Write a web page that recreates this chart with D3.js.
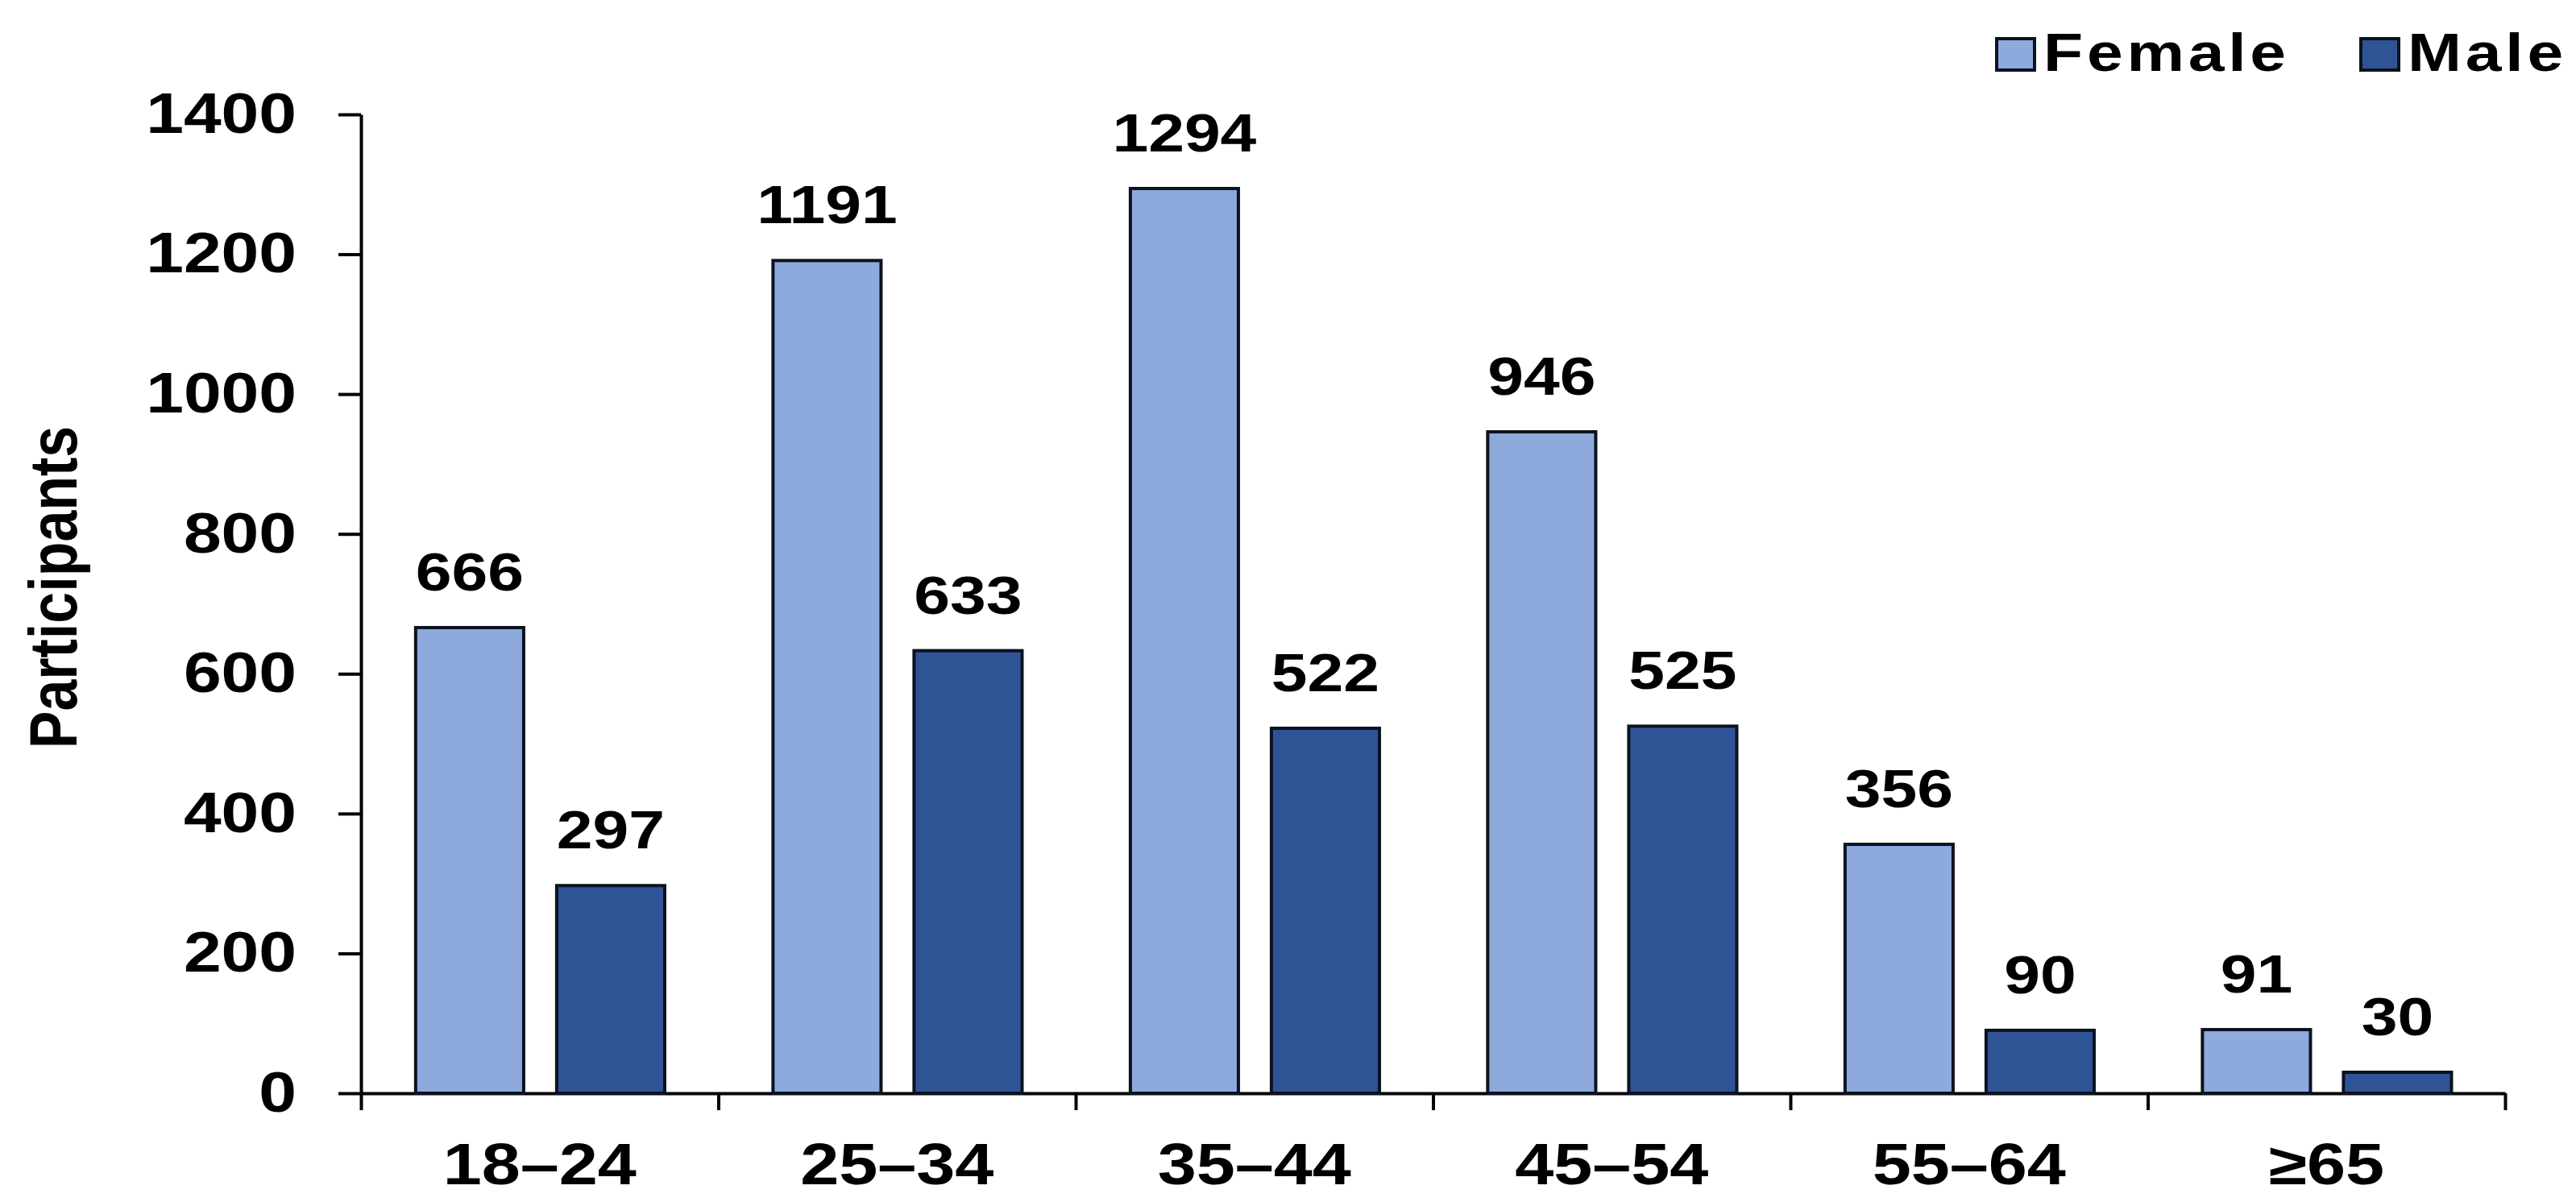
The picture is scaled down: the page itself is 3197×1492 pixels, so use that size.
<!DOCTYPE html>
<html>
<head>
<meta charset="utf-8">
<script src="https://cdn.jsdelivr.net/npm/d3@7"></script>
<style>
  body { margin: 0; background: #fff; }
  text { font-family: "Liberation Sans", Arial, sans-serif; font-weight: bold; fill: #000; }
</style>
</head>
<body>
<div id="chart"></div>
<script>
const categories = ["18–24", "25–34", "35–44", "45–54", "55–64", "≥65"];
const seriesNames = ["Female", "Male"];
const femaleValues = [666, 1191, 1294, 946, 356, 91];
const maleValues = [297, 633, 522, 525, 90, 30];
const yTickValues = [0, 200, 400, 600, 800, 1000, 1200, 1400];

const colors = {Female: "#8eaadc", Male: "#2f5496"};
const stretch = 1.2; // text in the source is a bit wide

const W = 3197, H = 1492;
const margin = {top: 142, right: 88, bottom: 135, left: 448};
const width = W - margin.left - margin.right;
const height = H - margin.top - margin.bottom;

const data = categories.map(function (c, i) {
    return {cat: c, values: [
        {key: "Female", value: femaleValues[i]},
        {key: "Male", value: maleValues[i]}
    ]};
});

const svg = d3.select("#chart")
              .append("svg")
              .attr("width", W)
              .attr("height", H)
              .append("g")
              .attr("transform", "translate(" + margin.left + "," + margin.top + ")");

const x0 = d3.scaleBand()
             .domain(categories)
             .range([0, width])
             .padding(0);

const bw = x0.bandwidth();
const x1 = d3.scaleBand()
             .domain(seriesNames)
             .range([0.153 * bw, 0.85 * bw])
             .paddingInner(0.234);

const y = d3.scaleLinear()
            .domain([0, 1400])
            .range([height, 0]);

// y axis
const yAxis = svg.append("g")
   .call(d3.axisLeft(y).tickValues(yTickValues).tickFormat(d3.format("d")).tickSize(28).tickSizeOuter(0));
yAxis.selectAll("path, line").attr("stroke", "#000").attr("stroke-width", 4);
yAxis.selectAll("text")
     .attr("font-size", 70)
     .attr("font-family", "Liberation Sans, Arial, sans-serif")
     .attr("font-weight", "bold")
     .attr("fill", "#000")
     .attr("x", -80 / stretch)
     .attr("transform", "scale(" + stretch + ",1)");

// x axis: ticks sit on the category edges
const xEdge = d3.scaleLinear().domain([0, categories.length]).range([0, width]);
const xAxisTicks = svg.append("g")
   .attr("transform", "translate(0," + height + ")")
   .call(d3.axisBottom(xEdge).tickValues(d3.range(0, categories.length + 1)).tickSize(21).tickSizeOuter(0).tickFormat(""));
xAxisTicks.selectAll("path, line").attr("stroke", "#000").attr("stroke-width", 4);

const xAxisLabels = svg.append("g")
   .attr("transform", "translate(0," + height + ")")
   .call(d3.axisBottom(x0).tickSize(0));
xAxisLabels.select(".domain").remove();
xAxisLabels.selectAll("text")
     .attr("font-size", 72)
     .attr("font-family", "Liberation Sans, Arial, sans-serif")
     .attr("font-weight", "bold")
     .attr("fill", "#000")
     .attr("y", 113)
     .attr("dy", 0)
     .attr("transform", "scale(" + stretch + ",1)");
xAxisLabels.selectAll(".tick")
     .attr("transform", function (d) {
         return "translate(" + (x0(d) + bw / 2) + ",0)";
     });

// bars
const groups = svg.selectAll("g.group")
   .data(data)
   .enter()
   .append("g")
   .attr("class", "group")
   .attr("transform", function (d) {
       return "translate(" + x0(d.cat) + ",0)";
   });

groups.selectAll("rect")
   .data(function (d) { return d.values; })
   .enter()
   .append("rect")
   .attr("x", function (d) { return x1(d.key); })
   .attr("y", function (d) { return y(d.value); })
   .attr("width", x1.bandwidth())
   .attr("height", function (d) { return height - y(d.value); })
   .attr("fill", function (d) { return colors[d.key]; })
   .attr("stroke", "#0b1220")
   .attr("stroke-width", 4);

groups.selectAll("text.value")
   .data(function (d) { return d.values; })
   .enter()
   .append("text")
   .attr("class", "value")
   .attr("text-anchor", "middle")
   .attr("font-size", 67)
   .attr("transform", function (d) {
       return "translate(" + (x1(d.key) + x1.bandwidth() / 2) + "," + (y(d.value) - 46) + ") scale(" + stretch + ",1)";
   })
   .text(function (d) { return d.value; });

// y label
svg.append("text")
   .attr("text-anchor", "middle")
   .attr("font-size", 70)
   .attr("transform", "translate(" + (95 - margin.left) + "," + (729 - margin.top) + ") scale(" + stretch + ",1) rotate(-90)")
   .text("Participants");

// legend
const legendX = [2478, 2930];
const legend = d3.select("#chart svg")
   .append("g")
   .selectAll("g")
   .data(seriesNames)
   .enter()
   .append("g")
   .attr("transform", function (d, i) {
       return "translate(" + legendX[i] + ",48)";
   });

legend.append("rect")
   .attr("width", 47)
   .attr("height", 39)
   .attr("fill", function (d) { return colors[d]; })
   .attr("stroke", "#0b1220")
   .attr("stroke-width", 4);

legend.append("text")
   .attr("font-size", 67)
   .attr("letter-spacing", 4)
   .attr("transform", "translate(58,40) scale(" + stretch + ",1)")
   .text(function (d) { return d; });
</script>
</body>
</html>
